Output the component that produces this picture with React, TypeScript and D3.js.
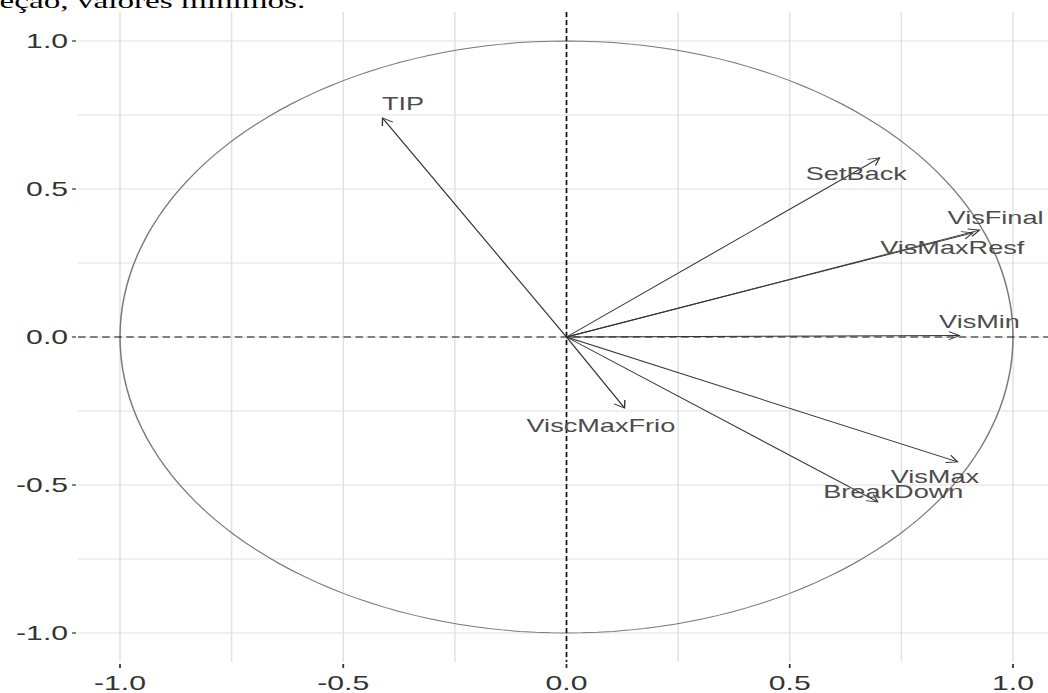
import React from "react";
import * as d3 from "d3";

const varNames = ["TIP", "SetBack", "VisFinal", "VisMaxResf", "VisMin", "VisMax", "BreakDown", "ViscMaxFrio"];
const dim1 = [-0.412, 0.701, 0.925, 0.91, 0.88, 0.876, 0.697, 0.13];
const dim2 = [0.74, 0.605, 0.361, 0.352, 0.005, -0.422, -0.557, -0.24];
const labelX = [-0.366, 0.649, 0.961, 0.864, 0.925, 0.825, 0.732, 0.077];
const labelY = [0.787, 0.551, 0.402, 0.301, 0.051, -0.473, -0.524, -0.3];
const tickValues = [-1, -0.5, 0, 0.5, 1];
const tickLabels = ["-1.0", "-0.5", "0.0", "0.5", "1.0"];
const minorTicks = [-0.75, -0.25, 0.25, 0.75];
const caption = "ifeção, valores mínimos.";

const W = 1048;
const H = 693;
const SX = 1.508;

export default function App() {
  const x = d3.scaleLinear().domain([-1, 1]).range([120 / SX, 1013 / SX]);
  const y = d3.scaleLinear().domain([-1, 1]).range([633, 41]);
  const px0 = x(-1.094);
  const px1 = x(1.11);
  const py0 = y(1.098);
  const py1 = y(-1.098);
  const circle = d3.range(0, 361, 2).map((a) => [Math.cos((a * Math.PI) / 180), Math.sin((a * Math.PI) / 180)]);
  const circlePath = d3.line<number[]>().x((d) => x(d[0])).y((d) => y(d[1]))(circle) || "";
  const grid = "#e2e2e2";
  const headLen = 8;
  const headAng = Math.PI / 6;

  return (
    <div style={{ position: "absolute", left: 0, top: 0 }}>
      <svg width={W} height={H} style={{ display: "block", background: "#fff" }}>
        <g transform={`scale(${SX},1)`}>
          {/* grid */}
          {[...tickValues, ...minorTicks].map((v, i) => (
            <line key={"gx" + i} x1={x(v)} x2={x(v)} y1={py0} y2={py1} stroke={grid} strokeWidth={1} />
          ))}
          {[...tickValues, ...minorTicks].map((v, i) => (
            <line key={"gy" + i} x1={px0} x2={px1} y1={y(v)} y2={y(v)} stroke={grid} strokeWidth={1.2} />
          ))}
          {/* circle */}
          <path d={circlePath} fill="none" stroke="#7a7a7a" strokeWidth={1} />
          {/* dashed axes */}
          <line x1={px0} x2={px1} y1={y(0)} y2={y(0)} stroke="#111" strokeWidth={1.1} strokeDasharray="5,3" />
          <line x1={x(0)} x2={x(0)} y1={py0} y2={py1} stroke="#111" strokeWidth={1.1} strokeDasharray="5,3" />
          {/* arrows */}
          {varNames.map((n, i) => {
            const x0 = x(0), y0 = y(0), x1 = x(dim1[i]), y1 = y(dim2[i]);
            const ang = Math.atan2(y1 - y0, x1 - x0);
            const ax = x1 - headLen * Math.cos(ang - headAng);
            const ay = y1 - headLen * Math.sin(ang - headAng);
            const bx = x1 - headLen * Math.cos(ang + headAng);
            const by = y1 - headLen * Math.sin(ang + headAng);
            return (
              <g key={"a" + n} stroke="#333" strokeWidth={0.9} fill="none">
                <line x1={x0} y1={y0} x2={x1} y2={y1} />
                <polyline points={`${ax},${ay} ${x1},${y1} ${bx},${by}`} />
              </g>
            );
          })}
          {/* labels */}
          {varNames.map((n, i) => (
            <text key={"l" + n} x={x(labelX[i])} y={y(labelY[i])} dy="0.35em" textAnchor="middle"
              fontFamily="Liberation Sans, Arial, sans-serif" fontSize={18} fill="#4d4d4d">{n}</text>
          ))}
          {/* y axis ticks */}
          {tickValues.map((v, i) => (
            <g key={"yt" + i}>
              <line x1={px0 - 6 / SX} x2={px0 - 2 / SX} y1={y(v)} y2={y(v)} stroke="#333" strokeWidth={1.2} />
              <text x={px0 - 10 / SX} y={y(v)} dy="0.35em" textAnchor="end"
                fontFamily="Liberation Sans, Arial, sans-serif" fontSize={20} fill="#333">{tickLabels[i]}</text>
            </g>
          ))}
          {/* x axis ticks */}
          {tickValues.map((v, i) => (
            <g key={"xt" + i}>
              <line x1={x(v)} x2={x(v)} y1={py1 + 2} y2={py1 + 6} stroke="#333" strokeWidth={1.2} />
              <text x={x(v)} y={690} textAnchor="middle"
                fontFamily="Liberation Sans, Arial, sans-serif" fontSize={20} fill="#333">{tickLabels[i]}</text>
            </g>
          ))}
          {/* caption fragment */}
          <text x={-13.7} y={8} fontFamily="Liberation Serif, Times New Roman, serif" fontSize={22} fill="#000">{caption}</text>
        </g>
      </svg>
    </div>
  );
}
